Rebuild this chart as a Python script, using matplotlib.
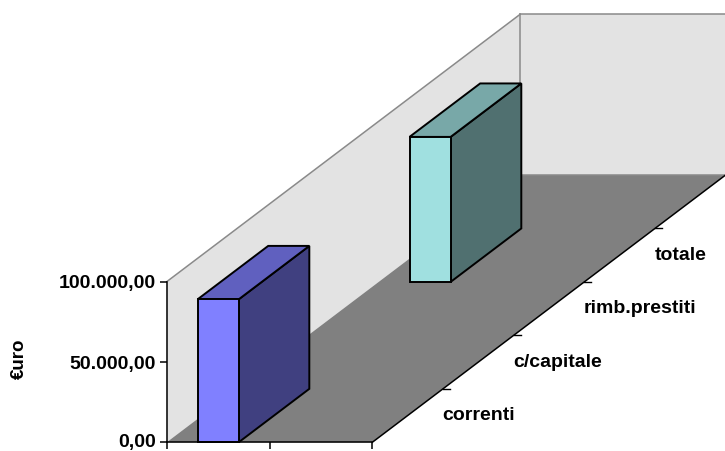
import numpy as np
import matplotlib
matplotlib.use("Agg")
import matplotlib.pyplot as plt
import matplotlib.transforms as mtransforms
from matplotlib.patches import Polygon
from matplotlib.ticker import FuncFormatter

# ---- data -------------------------------------------------------------
categories = ["", ""]                       # front (category) axis, unlabeled
series_names = ["correnti", "c/capitale", "rimb.prestiti", "totale", ""]
correnti = [89000, None]
c_capitale = [None, None]
rimb_prestiti = [None, None]
totale = [90300, None]
empty_series = [None, None]
series_values = [correnti, c_capitale, rimb_prestiti, totale, empty_series]
y_ticks = [0, 50000, 100000]

# ---- colours ----------------------------------------------------------
front_cols = ["#8080FF", "#993366", "#FFFFCC", "#A0E0E0", "#660066"]


def shade(hexcol, f):
    r, g, b = matplotlib.colors.to_rgb(hexcol)
    return (r * f, g * f, b * f)


WALL = "#E3E3E3"
FLOOR = "#808080"
EDGE = "#8A8A8A"
FONT = "Liberation Sans"

# ---- figure / front plane axes ---------------------------------------
W, H = 725, 451
fig = plt.figure(figsize=(W / 100, H / 100), dpi=100)
ax_left, ax_right, ax_bottom, ax_top = 166.7, 372.3, 442.3, 281.7   # pixels
ax = fig.add_axes([ax_left / W, (H - ax_bottom) / H,
                   (ax_right - ax_left) / W, (ax_bottom - ax_top) / H])
ax.set_facecolor("none")

ncat = len(categories)
vmax = 100000
ax.set_xlim(0, ncat)
ax.set_ylim(0, vmax)

# depth direction of the oblique projection, in axes fractions
depth_ax = (353.3 / (ax_right - ax_left), 267.3 / (ax_bottom - ax_top))
DX = depth_ax[0] * ncat
DY = depth_ax[1] * vmax
nser = len(series_names)


def proj(x, v, t):
    """category position x, value v, depth fraction t -> data coords"""
    return (x + DX * t, v + DY * t)


def face(pts, **kw):
    poly = Polygon([proj(*p) for p in pts], closed=True, clip_on=False, **kw)
    ax.add_patch(poly)
    return poly


# walls and floor
face([(0, 0, 0), (0, vmax, 0), (0, vmax, 1), (0, 0, 1)],
     facecolor=WALL, edgecolor="none", zorder=0)
face([(0, 0, 1), (0, vmax, 1), (ncat, vmax, 1), (ncat, 0, 1)],
     facecolor=WALL, edgecolor="none", zorder=0)
face([(0, 0, 0), (ncat, 0, 0), (ncat, 0, 1), (0, 0, 1)],
     facecolor=FLOOR, edgecolor="none", zorder=0.5)

edge_lines = [
    [(0, vmax, 0), (0, vmax, 1)],
    [(0, vmax, 1), (ncat, vmax, 1)],
    [(0, 0, 1), (0, vmax, 1)],
    [(0, 0, 1), (ncat, 0, 1)],
]
for seg in edge_lines:
    xs, ys = zip(*[proj(*p) for p in seg])
    ax.plot(xs, ys, color=EDGE, lw=1.1, clip_on=False, zorder=0.8)

# floor right edge (series axis)
xs, ys = zip(*[proj(ncat, 0, 0), proj(ncat, 0, 1)])
ax.plot(xs, ys, color="black", lw=1.1, clip_on=False, zorder=3)

# series-axis ticks and labels
tick_len = 7 / (ax_right - ax_left) * ncat
for k in range(1, nser + 1):
    px, py = proj(ncat, 0, k / nser)
    ax.plot([px, px + tick_len], [py, py], color="black", lw=1.0,
            clip_on=False, zorder=3)
for k, name in enumerate(series_names):
    if not name:
        continue
    px, py = proj(ncat, 0, (k + 0.5) / nser)
    ax.annotate(name, xy=(px, py), xytext=(35, 0), textcoords="offset pixels",
                ha="left", va="center", fontsize=14, fontweight="bold",
                family=FONT, annotation_clip=False)

# bars, drawn back to front
bar_w = 0.4
for k in reversed(range(nser)):
    t0, t1 = k / nser, (k + 1) / nser
    for i, v in enumerate(series_values[k]):
        if v is None:
            continue
        x0, x1 = i + 0.5 - bar_w / 2, i + 0.5 + bar_w / 2
        col = front_cols[k]
        kw = dict(edgecolor="black", lw=1.4, joinstyle="miter", zorder=2)
        face([(x1, 0, t0), (x1, v, t0), (x1, v, t1), (x1, 0, t1)],
             facecolor=shade(col, 0.5), **kw)
        face([(x0, v, t0), (x1, v, t0), (x1, v, t1), (x0, v, t1)],
             facecolor=shade(col, 0.75), **kw)
        face([(x0, 0, t0), (x1, 0, t0), (x1, v, t0), (x0, v, t0)],
             facecolor=col, **kw)

# axes styling
for s in ("top", "right"):
    ax.spines[s].set_visible(False)
for s in ("left", "bottom"):
    ax.spines[s].set_color("black")
    ax.spines[s].set_linewidth(1.1)
    ax.spines[s].set_zorder(3)

ax.set_xticks(np.arange(ncat + 1))
ax.set_xticklabels([""] * (ncat + 1))
ax.set_yticks(y_ticks)


def it_fmt(v, _pos):
    s = f"{v:,.2f}"
    return s.replace(",", "X").replace(".", ",").replace("X", ".")


ax.yaxis.set_major_formatter(FuncFormatter(it_fmt))
ax.tick_params(axis="both", direction="out", length=5, width=1.1,
               color="black")
ax.tick_params(axis="y", pad=3)
fig.canvas.draw()
ylabels = ax.get_yticklabels()
for lab in ylabels:
    lab.set_fontsize(14)
    lab.set_fontweight("bold")
    lab.set_family(FONT)
# keep the bottom label's comma inside the canvas
bottom_shift = mtransforms.ScaledTranslation(0, 2 / 100, fig.dpi_scale_trans)
for tick in ax.yaxis.get_major_ticks()[:1]:
    tick.label1.set_transform(tick.label1.get_transform() + bottom_shift)

ax.set_ylabel("€uro", fontsize=13.5, fontweight="bold", family=FONT)
ax.yaxis.set_label_coords(-0.675, 0.52)

fig.savefig("out.png", dpi=100, facecolor="white")
